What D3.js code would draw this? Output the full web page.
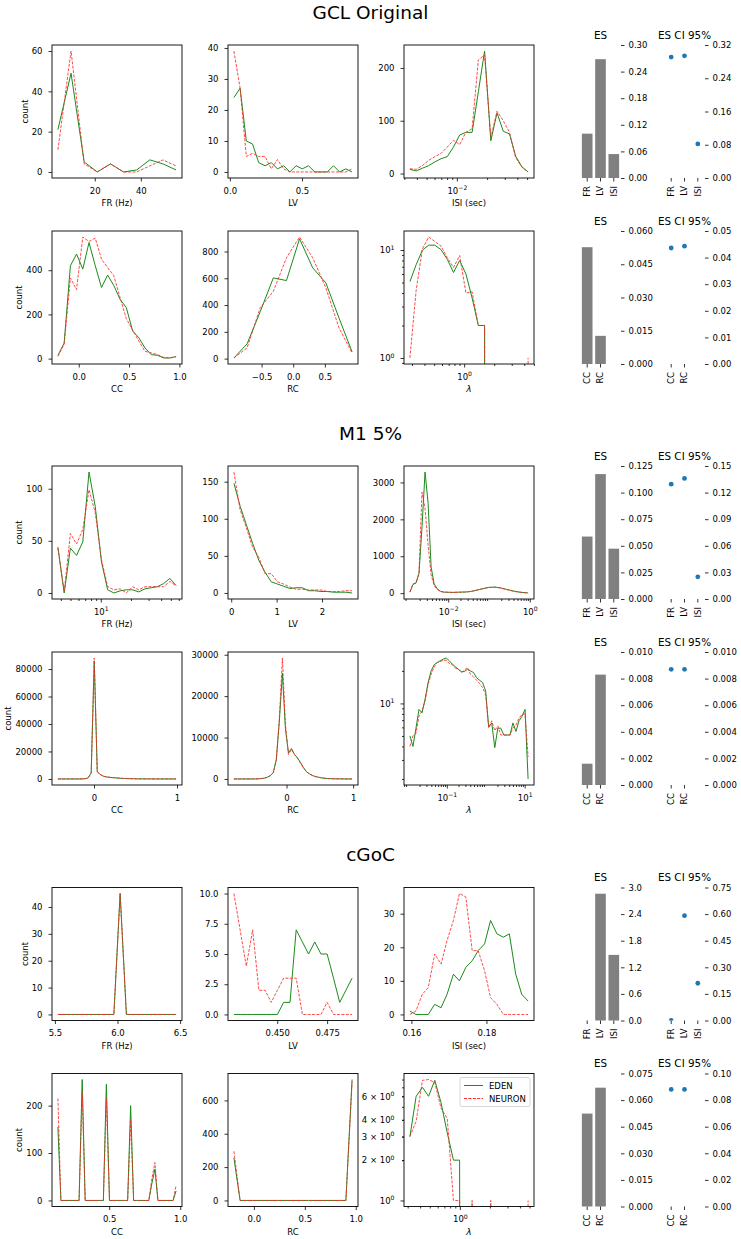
<!DOCTYPE html>
<html lang="en">
<head>
<meta charset="UTF-8">
<title>EDEN vs NEURON statistics</title>
<script src="https://d3js.org/d3.v7.min.js"></script>
<style>
  body { margin: 0; background: #fff; }
  svg { font-family: "DejaVu Sans", sans-serif; }
</style>
</head>
<body>
<svg width="741" height="1239"></svg>
<script>
// ---------------- data ----------------
// GCL Original
const gclFrX = [4.0, 9.7, 15.4, 21.1, 26.8, 32.5, 38.2, 43.9, 49.6, 55.3];
const gclFrEden = [21, 49, 5, 0, 4, 0, 1, 6, 4, 1];
const gclFrNeuron = [11, 60, 4, 0, 4, 0, 0, 3, 6, 3];

const gclLvX = [0.028, 0.071, 0.114, 0.157, 0.200, 0.244, 0.287, 0.330, 0.373, 0.416, 0.459, 0.502, 0.545, 0.588, 0.631, 0.675, 0.718, 0.761, 0.804, 0.847];
const gclLvEden = [24, 27, 10, 9, 3, 2, 3, 1, 2, 0, 2, 1, 2, 0, 0, 0, 2, 0, 1, 0];
const gclLvNeuron = [39, 27, 5, 6, 5, 5, 1, 4, 1, 0, 0, 0, 0, 0, 0, 0, 0, 0, 0, 1];

const gclIsiX = [0.00341, 0.00394, 0.00454, 0.00524, 0.00604, 0.00695, 0.00802, 0.00925, 0.01067, 0.01230, 0.01419, 0.01637, 0.01888, 0.02178, 0.02512, 0.02897, 0.03342, 0.03846, 0.04436, 0.05117];
const gclIsiEden = [8, 5, 10, 15, 22, 28, 32, 50, 73, 78, 78, 155, 232, 62, 115, 80, 75, 33, 13, 3];
const gclIsiNeuron = [9, 8, 15, 25, 32, 38, 50, 63, 55, 78, 85, 215, 225, 68, 118, 100, 78, 30, 12, 3];

const gclCcX = [-0.207, -0.145, -0.083, -0.022, 0.040, 0.102, 0.164, 0.226, 0.287, 0.349, 0.411, 0.473, 0.535, 0.596, 0.658, 0.720, 0.782, 0.844, 0.905, 0.967];
const gclCcEden = [15, 70, 420, 473, 405, 525, 420, 322, 378, 330, 268, 230, 125, 95, 48, 18, 15, 3, 3, 9];
const gclCcNeuron = [10, 65, 365, 312, 550, 530, 545, 450, 412, 374, 275, 180, 130, 80, 33, 26, 18, 6, 3, 9];

const gclRcX = [-0.937, -0.729, -0.522, -0.314, -0.107, 0.100, 0.308, 0.515, 0.723, 0.930];
const gclRcEden = [5, 110, 350, 603, 583, 895, 678, 566, 304, 50];
const gclRcNeuron = [5, 80, 380, 503, 753, 908, 753, 529, 230, 42];

const gclLamX = [0.286, 0.330, 0.382, 0.441, 0.508, 0.586, 0.678, 0.782, 0.902, 1.042, 1.202, 1.387, 1.603, 1.849, 2.133, 2.466, 2.845, 3.281, 3.784, 4.375];
const gclLamEden = [5.1, 7.3, 10, 11.1, 11.1, 10.1, 8.2, 6.2, 8.0, 6.0, 3.6, 2, 2, 0, 0, 0, 0, 0, 0, 0];
const gclLamNeuron = [1, 4.2, 10.3, 13.2, 12, 10.9, 8.5, 6.9, 8.9, 4.0, 4.1, 2, 2, 0, 0, 0, 0, 0, 0, 1];

const gclEs1 = [0.100, 0.268, 0.054];
const gclCi1 = [0.291, 0.294, 0.082];
const gclEs2 = [0.0527, 0.0127];
const gclCi2 = [0.0436, 0.0443];

// M1 5%
const m1FrX = [3.74, 4.32, 4.98, 5.74, 6.62, 7.64, 8.81, 10.16, 11.72, 13.52, 15.60, 17.99, 20.75, 23.93, 27.61, 31.84, 36.73, 42.36, 48.87, 56.36];
const m1FrEden = [44, 0, 43, 36, 49, 116, 83, 30, 3, 0, 2, 3, 3, 1, 4, 5, 6, 9, 14, 7];
const m1FrNeuron = [43, 1, 57, 47, 61, 99, 77, 32, 6, 3, 4, 0, 6, 3, 6, 6, 6, 6, 11, 7];

const m1LvX = [0.059, 0.196, 0.333, 0.470, 0.607, 0.744, 0.881, 1.018, 1.155, 1.292, 1.429, 1.566, 1.703, 1.840, 1.977, 2.114, 2.251, 2.388, 2.525, 2.662];
const m1LvEden = [148, 117, 92, 67, 44, 28, 15, 12, 9, 6, 7, 7, 3, 3, 2, 2, 1, 1, 1, 0];
const m1LvNeuron = [163, 112, 88, 62, 48, 26, 26, 15, 12, 8, 5, 5, 4, 4, 4, 2, 2, 2, 3, 3];

const m1IsiX = [0.001151, 0.001365, 0.001622, 0.001923, 0.002280, 0.002704, 0.003214, 0.003811, 0.004519, 0.005370, 0.006368, 0.007551, 0.008974, 0.01064, 0.01262, 0.01496, 0.01778, 0.02109, 0.02500, 0.02972, 0.03524, 0.04178, 0.04966, 0.05888, 0.06982, 0.08279, 0.09840, 0.1167, 0.1384, 0.1644, 0.1950, 0.2312, 0.2748, 0.3258, 0.3864, 0.4592, 0.5445, 0.6457, 0.7674, 0.9099];
const m1IsiEden = [27, 236, 273, 527, 1800, 3282, 2436, 709, 255, 118, 55, 30, 25, 22, 20, 22, 25, 28, 30, 35, 45, 60, 80, 100, 120, 140, 155, 160, 164, 155, 140, 120, 100, 80, 60, 45, 30, 20, 12, 6];
const m1IsiNeuron = [27, 250, 280, 560, 2736, 2300, 1300, 500, 200, 100, 50, 30, 25, 22, 20, 22, 25, 28, 30, 35, 45, 60, 80, 100, 115, 135, 150, 158, 160, 150, 135, 115, 95, 75, 55, 40, 28, 18, 10, 5];

const m1CcX = [-0.435, -0.399, -0.362, -0.326, -0.289, -0.253, -0.216, -0.180, -0.143, -0.107, -0.070, -0.034, 0.003, 0.039, 0.076, 0.112, 0.149, 0.186, 0.222, 0.259, 0.295, 0.332, 0.368, 0.405, 0.441, 0.478, 0.514, 0.551, 0.587, 0.624, 0.660, 0.697, 0.733, 0.770, 0.806, 0.843, 0.879, 0.916, 0.952, 0.989];
const m1CcEden = [0, 0, 0, 0, 0, 0, 0, 0, 50, 200, 800, 4500, 86000, 5200, 3200, 2000, 1500, 1200, 1000, 800, 600, 450, 350, 250, 200, 150, 110, 80, 60, 45, 35, 25, 20, 15, 10, 8, 5, 3, 2, 1];
const m1CcNeuron = [0, 0, 0, 0, 0, 0, 0, 0, 40, 180, 750, 4300, 88000, 5400, 3300, 2000, 1500, 1200, 1000, 800, 600, 450, 350, 250, 200, 150, 110, 80, 60, 45, 35, 25, 20, 15, 10, 8, 5, 3, 2, 1];

const m1RcX = [-0.790, -0.745, -0.699, -0.654, -0.608, -0.563, -0.517, -0.472, -0.426, -0.381, -0.335, -0.290, -0.244, -0.199, -0.153, -0.108, -0.062, -0.017, 0.029, 0.074, 0.120, 0.165, 0.211, 0.256, 0.302, 0.347, 0.393, 0.438, 0.484, 0.529, 0.575, 0.620, 0.666, 0.711, 0.757, 0.802, 0.848, 0.893, 0.939, 0.984];
const m1RcEden = [0, 0, 0, 0, 0, 0, 0, 10, 30, 80, 200, 400, 800, 1500, 4700, 14000, 25500, 12200, 6300, 7350, 5900, 5100, 3900, 2700, 1700, 1200, 800, 560, 400, 250, 160, 100, 60, 40, 30, 20, 10, 5, 3, 0];
const m1RcNeuron = [0, 0, 0, 0, 0, 0, 0, 10, 30, 80, 200, 400, 800, 1500, 4700, 14500, 29200, 13200, 5900, 7100, 5900, 5000, 3800, 2600, 1700, 1200, 800, 560, 400, 250, 160, 100, 60, 40, 30, 20, 10, 5, 3, 0];

const m1LamX = [0.01127, 0.01349, 0.01614, 0.01929, 0.02307, 0.02761, 0.03304, 0.03951, 0.04729, 0.05649, 0.06761, 0.08091, 0.09683, 0.1159, 0.1387, 0.1660, 0.1982, 0.2371, 0.2838, 0.3396, 0.4064, 0.4864, 0.5808, 0.6950, 0.8318, 0.9954, 1.191, 1.426, 1.706, 2.042, 2.438, 2.917, 3.491, 4.178, 5.000, 5.984, 7.145, 8.551, 10.23, 12.25];
const m1LamEden = [5.0, 4.0, 5.9, 8.8, 8.2, 10.9, 15.6, 20.0, 22.8, 23.9, 24.8, 25.7, 26.3, 24.8, 23.1, 21.8, 20.7, 19.7, 19.7, 20.7, 20.0, 19.3, 17.3, 16.4, 15.6, 13.0, 6.0, 6.6, 3.9, 5.9, 5.9, 5.1, 5.1, 5.1, 6.6, 5.5, 6.9, 7.6, 8.8, 2.0];
const m1LamNeuron = [4.0, 5.0, 5.3, 7.6, 8.5, 10.5, 15.0, 18.6, 21.8, 23.9, 24.4, 25.1, 25.1, 23.4, 22.8, 21.2, 20.7, 19.3, 20.3, 21.5, 18.6, 17.6, 16.4, 15.3, 14.0, 12.1, 6.0, 6.9, 5.6, 6.2, 5.1, 5.1, 5.1, 5.1, 5.9, 6.3, 7.3, 7.9, 8.0, 3.2];

const m1Es1 = [0.0587, 0.1174, 0.0473];
const m1Ci1 = [0.1295, 0.136, 0.025];
const m1Es2 = [0.0016, 0.0083];
const m1Ci2 = [0.0087, 0.0087];

// cGoC
const cgFrX = [5.524, 5.574, 5.623, 5.673, 5.723, 5.772, 5.822, 5.872, 5.922, 5.971, 6.021, 6.071, 6.120, 6.170, 6.220, 6.269, 6.319, 6.369, 6.418, 6.468];
const cgFrEden = [0, 0, 0, 0, 0, 0, 0, 0, 0, 0, 45, 0, 0, 0, 0, 0, 0, 0, 0, 0];
const cgFrNeuron = [0, 0, 0, 0, 0, 0, 0, 0, 0, 0, 45, 0, 0, 0, 0, 0, 0, 0, 0, 0];

const cgLvX = [0.4283, 0.4314, 0.4345, 0.4377, 0.4408, 0.4439, 0.4470, 0.4501, 0.4532, 0.4564, 0.4595, 0.4626, 0.4657, 0.4688, 0.4719, 0.4750, 0.4782, 0.4813, 0.4844, 0.4875];
const cgLvEden = [0, 0, 0, 0, 0, 0, 0, 0, 1, 1, 7, 6, 5, 6, 5, 5, 3, 1, 2, 3];
const cgLvNeuron = [10, 7, 4, 7, 2, 2, 1, 2, 3, 3, 3, 0, 0, 0, 0, 1, 0, 0, 0, 0];

const cgIsiX = [0.1596, 0.1612, 0.1629, 0.1645, 0.1662, 0.1679, 0.1695, 0.1712, 0.1728, 0.1745, 0.1762, 0.1778, 0.1795, 0.1811, 0.1828, 0.1845, 0.1861, 0.1878, 0.1894, 0.1911];
const cgIsiEden = [1, 0, 0, 0, 3, 2, 6, 12, 10, 14, 16, 19, 21, 28, 24, 23, 24, 12, 6, 4];
const cgIsiNeuron = [0, 1, 6, 8, 18, 15, 22, 28, 36, 35, 19, 19, 13, 5, 3, 0, 0, 0, 0, 0];

const cgCcX = [0.139, 0.160, 0.182, 0.203, 0.224, 0.246, 0.267, 0.288, 0.310, 0.331, 0.352, 0.374, 0.395, 0.416, 0.438, 0.459, 0.480, 0.502, 0.523, 0.544, 0.566, 0.587, 0.608, 0.630, 0.651, 0.672, 0.694, 0.715, 0.736, 0.758, 0.779, 0.800, 0.822, 0.843, 0.864, 0.886, 0.907, 0.928, 0.950, 0.971];
const cgCcEden = [155, 0, 0, 0, 0, 0, 0, 0, 255, 0, 0, 0, 0, 0, 0, 0, 245, 0, 0, 0, 0, 0, 0, 0, 200, 0, 0, 0, 0, 0, 0, 35, 66, 0, 0, 0, 0, 0, 0, 20];
const cgCcNeuron = [215, 0, 0, 0, 0, 0, 0, 0, 230, 0, 0, 0, 0, 0, 0, 0, 215, 0, 0, 0, 0, 0, 0, 0, 170, 0, 0, 0, 0, 0, 0, 45, 80, 0, 0, 0, 0, 0, 0, 32];

const cgRcX = [-0.196, -0.135, -0.074, -0.013, 0.048, 0.109, 0.170, 0.231, 0.292, 0.353, 0.414, 0.476, 0.537, 0.598, 0.659, 0.720, 0.781, 0.842, 0.903, 0.964];
const cgRcEden = [255, 0, 0, 0, 0, 0, 0, 0, 0, 0, 0, 0, 0, 0, 0, 0, 0, 0, 0, 725];
const cgRcNeuron = [295, 0, 0, 0, 0, 0, 0, 0, 0, 0, 0, 0, 0, 0, 0, 0, 0, 0, 0, 712];

const cgLamX = [0.316, 0.365, 0.422, 0.486, 0.561, 0.647, 0.748, 0.863, 0.995, 1.151, 1.327, 1.531, 1.770, 2.042, 2.355, 2.723, 3.141, 3.622, 4.178, 4.831];
const cgLamEden = [3, 6, 7, 6, 7.9, 5.4, 3.2, 2, 2, 0, 0, 0, 0, 0, 0, 0, 0, 0, 0, 0];
const cgLamNeuron = [3, 3.9, 7.9, 8, 7.6, 4.9, 4.1, 1, 1, 0, 1, 0, 0, 1, 0, 0, 0, 0, 0, 1];

const cgEs1 = [0, 2.86, 1.48];
const cgCi1 = [0, 0.591, 0.21];
const cgEs2 = [0.0524, 0.067];
const cgCi2 = [0.088, 0.088];

// tick values
const catsSpike = ['FR', 'LV', 'ISI'];
const catsCorr = ['CC', 'RC'];
const gclEs1Ticks = [0, 0.06, 0.12, 0.18, 0.24, 0.30];
const gclCi1Ticks = [0, 0.08, 0.16, 0.24, 0.32];
const gclEs2Ticks = [0, 0.015, 0.030, 0.045, 0.060];
const gclCi2Ticks = [0, 0.01, 0.02, 0.03, 0.04, 0.05];
const m1Es1Ticks = [0, 0.025, 0.05, 0.075, 0.1, 0.125];
const m1Ci1Ticks = [0, 0.03, 0.06, 0.09, 0.12, 0.15];
const m1Es2Ticks = [0, 0.002, 0.004, 0.006, 0.008, 0.010];
const m1Ci2Ticks = [0, 0.002, 0.004, 0.006, 0.008, 0.010];
const cgEs1Ticks = [0, 0.6, 1.2, 1.8, 2.4, 3.0];
const cgCi1Ticks = [0, 0.15, 0.30, 0.45, 0.60, 0.75];
const cgEs2Ticks = [0, 0.015, 0.030, 0.045, 0.060, 0.075];
const cgCi2Ticks = [0, 0.02, 0.04, 0.06, 0.08, 0.10];

// ---------------- layout ----------------
const W = 130, H = 133, FS = 8.5;
const colX = [52, 228, 404];
const esX = 580, ciX = 664, esW = 41;
const rowGap = 186;
const edenColor = '#1b8a1b', neuronColor = '#ff2a2a';

const svg = d3.select('svg');
let clipN = 0;

function padDomain([a, b], log) {
  if (log) {
    const la = Math.log10(a), lb = Math.log10(b), m = (lb - la) * 0.05;
    return [Math.pow(10, la - m), Math.pow(10, lb + m)];
  }
  const m = (b - a) * 0.05;
  return [a - m, b + m];
}

// as many decimals as the tick step needs (0.025 -> 3, 2.5 -> 1)
function fixedFmt(ticks) {
  const step = Math.abs(ticks[1] - ticks[0]);
  let p = 0;
  while (p < 8 && Math.abs(step * Math.pow(10, p) - Math.round(step * Math.pow(10, p))) > 1e-6) p++;
  return d3.format('.' + p + 'f');
}

function sciLabel(text, v) {
  const k = Math.floor(Math.log10(v) + 1e-9);
  const m = Math.round(v / Math.pow(10, k));
  text.text('');
  if (m !== 1) text.append('tspan').text(m + ' × ');
  text.append('tspan').text('10');
  text.append('tspan').attr('dy', -3.3).attr('font-size', FS * 0.72)
    .text(k < 0 ? '−' + (-k) : String(k));
}

function logMinors([a, b]) {
  const out = [];
  for (let k = Math.floor(Math.log10(a)); k <= Math.ceil(Math.log10(b)); k++) {
    for (let m = 2; m <= 9; m++) {
      const v = m * Math.pow(10, k);
      if (v >= a && v <= b) out.push(v);
    }
  }
  return out;
}

function styleAxis(sel) {
  sel.attr('font-size', FS).attr('font-family', null);
  sel.select('.domain').remove();
  sel.selectAll('.tick line').attr('stroke-width', 0.8);
}

function clipRect(g, w, h) {
  const id = 'clip' + (clipN++);
  g.append('clipPath').attr('id', id).append('rect').attr('width', w).attr('height', h);
  return `url(#${id})`;
}

function histPanel(left, top, p) {
  const g = svg.append('g').attr('transform', `translate(${left},${top})`);
  const x = (p.xLog ? d3.scaleLog() : d3.scaleLinear())
    .domain(padDomain(d3.extent(p.x), p.xLog)).range([0, W]);
  const vals = p.eden.concat(p.neuron).filter(v => !p.yLog || v > 0);
  const y = (p.yLog ? d3.scaleLog() : d3.scaleLinear())
    .domain(padDomain(d3.extent(vals), p.yLog)).range([H, 0]);

  // zero counts on a log axis fall far below the frame and get clipped
  const yPos = v => (p.yLog && v <= 0) ? H + 5000 : y(v);
  const line = d3.line().x(d => x(d[0])).y(d => yPos(d[1]));
  const plot = g.append('g').attr('clip-path', clipRect(g, W, H));
  plot.append('path').datum(d3.zip(p.x, p.eden)).attr('d', line)
    .attr('fill', 'none').attr('stroke', edenColor).attr('stroke-width', 1);
  plot.append('path').datum(d3.zip(p.x, p.neuron)).attr('d', line)
    .attr('fill', 'none').attr('stroke', neuronColor).attr('stroke-width', 1)
    .attr('stroke-opacity', 0.85).attr('stroke-dasharray', '3,1.4');

  // minor ticks on log axes
  if (p.xLog) {
    g.append('g').attr('transform', `translate(0,${H})`)
      .call(d3.axisBottom(x).tickValues(logMinors(x.domain())).tickSize(2).tickFormat(''))
      .call(styleAxis);
  }
  if (p.yLog) {
    g.append('g')
      .call(d3.axisLeft(y).tickValues(logMinors(y.domain())).tickSize(2).tickFormat(''))
      .call(styleAxis);
  }

  const xa = g.append('g').attr('transform', `translate(0,${H})`)
    .call(d3.axisBottom(x).tickValues(p.xTicks).tickSize(3.5).tickPadding(6)
      .tickFormat(p.xLog ? () => '' : fixedFmt(p.xTicks)))
    .call(styleAxis);
  if (p.xLog) xa.selectAll('.tick text').each(function (d) { sciLabel(d3.select(this), d); });

  const ya = g.append('g')
    .call(d3.axisLeft(y).tickValues(p.yTicks).tickSize(3.5).tickPadding(6)
      .tickFormat(p.yLog ? () => '' : fixedFmt(p.yTicks)))
    .call(styleAxis);
  if (p.yLog) {
    ya.selectAll('.tick text').each(function (d) { sciLabel(d3.select(this), d); });
    ya.selectAll('.tick line').attr('x2', d => Math.abs(Math.log10(d) % 1) < 1e-9 ? -3.5 : -2);
  }

  g.append('rect').attr('width', W).attr('height', H)
    .attr('fill', 'none').attr('stroke', '#000').attr('stroke-width', 0.9);

  const xl = g.append('text').attr('x', W / 2).attr('y', H + 28)
    .attr('text-anchor', 'middle').attr('font-size', FS).text(p.xLabel);
  if (p.xLabel === 'λ') xl.attr('font-style', 'italic').attr('font-size', FS + 0.5);

  if (p.yLabel) {
    const bb = ya.node().getBBox();
    g.append('text').attr('transform', `translate(${bb.x - 4},${H / 2}) rotate(-90)`)
      .attr('text-anchor', 'middle').attr('font-size', FS).text(p.yLabel);
  }

  if (p.legend) {
    const lg = g.append('g').attr('transform', 'translate(56,4)');
    lg.append('rect').attr('width', 70).attr('height', 29).attr('rx', 2)
      .attr('fill', '#fff').attr('fill-opacity', 0.8).attr('stroke', '#cccccc').attr('stroke-width', 0.8);
    const items = [['EDEN', edenColor, null], ['NEURON', neuronColor, '3,1.4']];
    items.forEach(([name, col, dash], i) => {
      const yy = 8 + i * 13;
      lg.append('line').attr('x1', 4).attr('x2', 23).attr('y1', yy).attr('y2', yy)
        .attr('stroke', col).attr('stroke-width', 1).attr('stroke-dasharray', dash);
      lg.append('text').attr('x', 29).attr('y', yy + 3).attr('font-size', FS).text(name);
    });
  }
}

function esPanel(left, top, cats, vals, ticks, title, kind) {
  const g = svg.append('g').attr('transform', `translate(${left},${top})`);
  const x = d3.scaleBand().domain([0, 1, 2]).range([0, esW]).paddingInner(0.2).paddingOuter(0.14);
  const y = d3.scaleLinear().domain([0, ticks[ticks.length - 1]]).range([H, 0]);

  if (kind === 'bar') {
    g.selectAll('rect.bar').data(vals).join('rect').attr('class', 'bar')
      .attr('x', (d, i) => x(i)).attr('width', x.bandwidth())
      .attr('y', d => y(d)).attr('height', d => H - y(d))
      .attr('fill', '#808080');
  } else {
    g.append('g').attr('clip-path', clipRect(g, esW, H))
      .selectAll('circle').data(vals).join('circle')
      .attr('cx', (d, i) => x(i) + x.bandwidth() / 2).attr('cy', d => y(d))
      .attr('r', 2.4).attr('fill', '#1f77b4');
  }

  g.append('g').attr('transform', `translate(${esW},0)`)
    .call(d3.axisRight(y).tickValues(ticks).tickSize(3.5).tickPadding(4).tickFormat(fixedFmt(ticks)))
    .call(styleAxis);

  const xa = g.append('g').attr('transform', `translate(0,${H})`)
    .call(d3.axisBottom(x).tickValues(cats.map((c, i) => i)).tickSize(3.5).tickFormat(i => cats[i]))
    .call(styleAxis);
  xa.selectAll('.tick text').attr('transform', 'rotate(-90)').attr('text-anchor', 'end')
    .attr('x', -8).attr('y', 0).attr('dy', '0.35em');

  g.append('text').attr('x', esW / 2).attr('y', -6.5).attr('text-anchor', 'middle')
    .attr('font-size', 10.4).text(title);
}

// ---------------- sections ----------------
const sections = [
  { title: 'GCL Original', top: 45,
    rows: [
      [ { x: gclFrX, eden: gclFrEden, neuron: gclFrNeuron, xTicks: [20, 40], yTicks: [0, 20, 40, 60], xLabel: 'FR (Hz)' },
        { x: gclLvX, eden: gclLvEden, neuron: gclLvNeuron, xTicks: [0, 0.5], yTicks: [0, 10, 20, 30, 40], xLabel: 'LV' },
        { x: gclIsiX, eden: gclIsiEden, neuron: gclIsiNeuron, xLog: true, xTicks: [0.01], yTicks: [0, 100, 200], xLabel: 'ISI (sec)' } ],
      [ { x: gclCcX, eden: gclCcEden, neuron: gclCcNeuron, xTicks: [0, 0.5, 1.0], yTicks: [0, 200, 400], xLabel: 'CC' },
        { x: gclRcX, eden: gclRcEden, neuron: gclRcNeuron, xTicks: [-0.5, 0, 0.5], yTicks: [0, 200, 400, 600, 800], xLabel: 'RC' },
        { x: gclLamX, eden: gclLamEden, neuron: gclLamNeuron, xLog: true, yLog: true, xTicks: [1], yTicks: [1, 10], xLabel: 'λ' } ]
    ],
    es: [ [catsSpike, gclEs1, gclEs1Ticks, gclCi1, gclCi1Ticks], [catsCorr, gclEs2, gclEs2Ticks, gclCi2, gclCi2Ticks] ] },
  { title: 'M1 5%', top: 466,
    rows: [
      [ { x: m1FrX, eden: m1FrEden, neuron: m1FrNeuron, xLog: true, xTicks: [10], yTicks: [0, 50, 100], xLabel: 'FR (Hz)' },
        { x: m1LvX, eden: m1LvEden, neuron: m1LvNeuron, xTicks: [0, 1, 2], yTicks: [0, 50, 100, 150], xLabel: 'LV' },
        { x: m1IsiX, eden: m1IsiEden, neuron: m1IsiNeuron, xLog: true, xTicks: [0.01, 1], yTicks: [0, 1000, 2000, 3000], xLabel: 'ISI (sec)' } ],
      [ { x: m1CcX, eden: m1CcEden, neuron: m1CcNeuron, xTicks: [0, 1], yTicks: [0, 20000, 40000, 60000, 80000], xLabel: 'CC' },
        { x: m1RcX, eden: m1RcEden, neuron: m1RcNeuron, xTicks: [0, 1], yTicks: [0, 10000, 20000, 30000], xLabel: 'RC' },
        { x: m1LamX, eden: m1LamEden, neuron: m1LamNeuron, xLog: true, yLog: true, xTicks: [0.1, 10], yTicks: [10], xLabel: 'λ' } ]
    ],
    es: [ [catsSpike, m1Es1, m1Es1Ticks, m1Ci1, m1Ci1Ticks], [catsCorr, m1Es2, m1Es2Ticks, m1Ci2, m1Ci2Ticks] ] },
  { title: 'cGoC', top: 887.5,
    rows: [
      [ { x: cgFrX, eden: cgFrEden, neuron: cgFrNeuron, xTicks: [5.5, 6.0, 6.5], yTicks: [0, 10, 20, 30, 40], xLabel: 'FR (Hz)' },
        { x: cgLvX, eden: cgLvEden, neuron: cgLvNeuron, xTicks: [0.45, 0.475], yTicks: [0, 2.5, 5, 7.5, 10], xLabel: 'LV' },
        { x: cgIsiX, eden: cgIsiEden, neuron: cgIsiNeuron, xTicks: [0.16, 0.18], yTicks: [0, 10, 20, 30], xLabel: 'ISI (sec)' } ],
      [ { x: cgCcX, eden: cgCcEden, neuron: cgCcNeuron, xTicks: [0.5, 1.0], yTicks: [0, 100, 200], xLabel: 'CC' },
        { x: cgRcX, eden: cgRcEden, neuron: cgRcNeuron, xTicks: [0, 0.5, 1.0], yTicks: [0, 200, 400, 600], xLabel: 'RC' },
        { x: cgLamX, eden: cgLamEden, neuron: cgLamNeuron, xLog: true, yLog: true, xTicks: [1], yTicks: [1, 2, 3, 4, 6], xLabel: 'λ', legend: true } ]
    ],
    es: [ [catsSpike, cgEs1, cgEs1Ticks, cgCi1, cgCi1Ticks], [catsCorr, cgEs2, cgEs2Ticks, cgCi2, cgCi2Ticks] ] }
];

sections.forEach(s => {
  svg.append('text').attr('x', 370.5).attr('y', s.top - 26.5).attr('text-anchor', 'middle')
    .attr('font-size', 18.5).text(s.title);
  s.rows.forEach((row, r) => {
    const top = s.top + r * rowGap;
    row.forEach((p, c) => histPanel(colX[c], top, Object.assign({ yLabel: c === 0 ? 'count' : null }, p)));
    const [cats, es, esTicks, ci, ciTicks] = s.es[r];
    esPanel(esX, top, cats, es, esTicks, 'ES', 'bar');
    esPanel(ciX, top, cats, ci, ciTicks, 'ES CI 95%', 'dot');
  });
});
</script>
</body>
</html>
